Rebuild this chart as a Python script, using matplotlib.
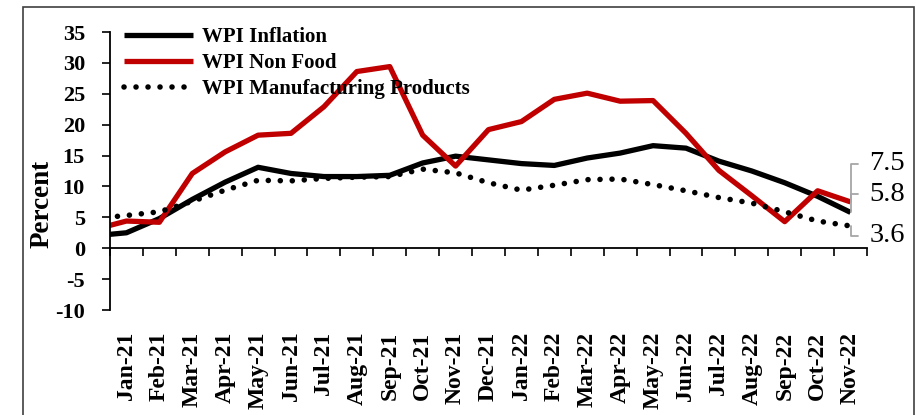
import numpy as np
import matplotlib
matplotlib.use("Agg")
import matplotlib.pyplot as plt
from matplotlib.patches import Rectangle

# Data (Dec-20 value only feeds the clipped stub at the left edge)
months = ["Dec-20", "Jan-21", "Feb-21", "Mar-21", "Apr-21", "May-21", "Jun-21",
          "Jul-21", "Aug-21", "Sep-21", "Oct-21", "Nov-21", "Dec-21",
          "Jan-22", "Feb-22", "Mar-22", "Apr-22", "May-22", "Jun-22",
          "Jul-22", "Aug-22", "Sep-22", "Oct-22", "Nov-22"]
wpi_inflation = [2.0, 2.5, 4.8, 7.9, 10.7, 13.1, 12.1, 11.6, 11.6, 11.8, 13.8, 14.9,
                 14.3, 13.7, 13.4, 14.6, 15.4, 16.6, 16.2, 14.1, 12.5, 10.6, 8.4, 5.8]
wpi_non_food = [3.0, 4.4, 4.2, 12.1, 15.6, 18.3, 18.6, 22.9, 28.6, 29.4, 18.3, 13.3,
                19.2, 20.5, 24.1, 25.1, 23.8, 23.9, 18.6, 12.6, 8.5, 4.3, 9.3, 7.5]
wpi_manuf = [4.8, 5.3, 5.9, 7.6, 9.4, 11.0, 10.9, 11.3, 11.5, 11.6, 12.8, 12.2,
             10.6, 9.4, 10.2, 11.1, 11.2, 10.3, 9.3, 8.2, 7.3, 5.9, 4.4, 3.6]
end_labels = ["7.5", "5.8", "3.6"]

RED = "#C00000"
GREY = "#A6A6A6"

plt.rcParams["font.family"] = ["Liberation Serif", "DejaVu Serif"]
plt.rcParams["font.weight"] = "bold"
plt.rcParams["axes.unicode_minus"] = False

fig = plt.figure(figsize=(9.16, 4.15), dpi=100)
ax = fig.add_axes([110 / 916, 1 - 310 / 415, 757 / 916, 278 / 415])

x = np.arange(len(months))
ax.plot(x, wpi_inflation, color="black", lw=3.8, label="WPI Inflation",
        solid_joinstyle="round", solid_capstyle="butt")
ax.plot(x, wpi_non_food, color=RED, lw=3.8, label="WPI Non Food",
        solid_joinstyle="round", solid_capstyle="butt")
ax.plot(x, wpi_manuf, color="black", lw=4.0, linestyle=(0, (0.01, 2.15)),
        dash_capstyle="round", label="WPI Manufacturing Products")

ax.set_xlim(0.5, len(months) - 0.5)
ax.set_ylim(-10, 35)
ax.set_yticks(np.arange(-10, 36, 5))

# category boundaries carry tick marks, centres carry the labels
ax.set_xticks(np.arange(0.5, len(months), 1.0))
ax.set_xticklabels([])
ax.set_xticks(x[1:], minor=True)
ax.set_xticklabels(months[1:], minor=True)
ax.tick_params(axis="x", which="major", direction="out", length=6, width=1.2)
ax.tick_params(axis="x", which="minor", length=0, pad=60, labelrotation=90,
               labelsize=17)
ax.tick_params(axis="y", direction="out", length=6, width=1.2, pad=12,
               labelsize=16)

for s in ["top", "right"]:
    ax.spines[s].set_visible(False)
ax.spines["bottom"].set_position(("data", 0))
ax.spines["bottom"].set_linewidth(1.3)
ax.spines["left"].set_linewidth(1.3)

fig.text(42 / 916, 1 - 204 / 415, "Percent", rotation=90, ha="center",
         va="center", fontsize=19.5, fontweight="bold")

leg = ax.legend(loc="upper left", bbox_to_anchor=(0.005, 1.056), frameon=False,
                fontsize=15, handlelength=3.3, handletextpad=0.45,
                labelspacing=0.29, borderpad=0)

# end-point labels with leader lines
offsets = [(19, 38), (19, 18), (19, -10)]
series = [wpi_non_food, wpi_inflation, wpi_manuf]
for lab, ser, off in zip(end_labels, series, offsets):
    ax.annotate(lab, xy=(x[-1], ser[-1]), xytext=off, textcoords="offset pixels",
                ha="left", va="center", fontsize=20.5, fontweight="normal",
                annotation_clip=False,
                arrowprops=dict(arrowstyle="-", color=GREY, lw=1.3,
                                shrinkA=6, shrinkB=0, relpos=(0, 0.5),
                                connectionstyle="angle,angleA=0,angleB=90,rad=0"))

# outer frame
fig.patches.append(Rectangle((23 / 916, -0.02), 891 / 916, 1.02 - 7 / 415,
                             transform=fig.transFigure, fill=False,
                             edgecolor="#404040", lw=1.2))

fig.savefig("out.png", dpi=100)
